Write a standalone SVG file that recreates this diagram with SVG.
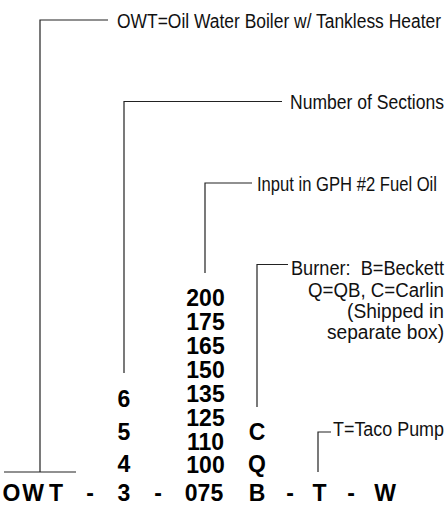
<svg xmlns="http://www.w3.org/2000/svg" width="446" height="506" viewBox="0 0 446 506">
<style>
.lbl{font-family:"Liberation Sans",Arial,sans-serif;font-size:16px;fill:#111}
.b{font-family:"Liberation Sans",Arial,sans-serif;font-size:23px;font-weight:bold;fill:#000;text-anchor:middle}
.c{fill:none;stroke:#222;stroke-width:1.2}
</style>
<rect width="446" height="506" fill="#fff"/>
<g id="connectors">
<path class="c" d="M108,20H40V472M4,472H76"/>
<path class="c" d="M282,101.5H124V373"/>
<path class="c" d="M252,183H205V273"/>
<path class="c" d="M288,264.5H257V407"/>
<path class="c" d="M331,432H318V472"/>
</g>
<g id="label-owt"><text class="lbl" transform="translate(117,27.5) scale(1,1.22)" textLength="324" lengthAdjust="spacingAndGlyphs">OWT=Oil Water Boiler w/ Tankless Heater</text></g>
<g id="label-sections"><text class="lbl" transform="translate(290,109) scale(1,1.22)" textLength="154" lengthAdjust="spacingAndGlyphs">Number of Sections</text></g>
<g id="label-input"><text class="lbl" transform="translate(257,190.5) scale(1,1.22)" textLength="180" lengthAdjust="spacingAndGlyphs">Input in GPH #2 Fuel Oil</text></g>
<g id="label-burner">
<text class="lbl" transform="translate(291,275) scale(1,1.22)" textLength="153" lengthAdjust="spacingAndGlyphs" xml:space="preserve">Burner:  B=Beckett</text>
<text class="lbl" transform="translate(308,296.5) scale(1,1.22)" textLength="136" lengthAdjust="spacingAndGlyphs">Q=QB, C=Carlin</text>
<text class="lbl" transform="translate(347,317.5) scale(1,1.22)" textLength="97" lengthAdjust="spacingAndGlyphs">(Shipped in</text>
<text class="lbl" transform="translate(327,338.5) scale(1,1.22)" textLength="117" lengthAdjust="spacingAndGlyphs">separate box)</text>
</g>
<g id="label-pump"><text class="lbl" transform="translate(333,436) scale(1,1.22)" textLength="111" lengthAdjust="spacingAndGlyphs">T=Taco Pump</text></g>
<g id="sections-options">
<text class="b" x="124" y="407">6</text>
<text class="b" x="124" y="440">5</text>
<text class="b" x="124" y="472">4</text>
</g>
<g id="input-options">
<text class="b" x="205.5" y="306">200</text>
<text class="b" x="205.5" y="330">175</text>
<text class="b" x="205.5" y="354">165</text>
<text class="b" x="205.5" y="378">150</text>
<text class="b" x="205.5" y="401.5">135</text>
<text class="b" x="205.5" y="425.5">125</text>
<text class="b" x="205.5" y="449.5">110</text>
<text class="b" x="205.5" y="473">100</text>
</g>
<g id="burner-options">
<text class="b" x="257" y="440">C</text>
<text class="b" x="257" y="472">Q</text>
</g>
<g id="code-row">
<text class="b" x="11.5" y="500.5">O</text>
<text class="b" x="33" y="500.5">W</text>
<text class="b" x="56" y="500.5">T</text>
<text class="b" x="90" y="500.5">-</text>
<text class="b" x="124" y="500.5">3</text>
<text class="b" x="158" y="500.5">-</text>
<text class="b" x="204" y="500.5">075</text>
<text class="b" x="257" y="500.5">B</text>
<text class="b" x="290" y="500.5">-</text>
<text class="b" x="319.5" y="500.5">T</text>
<text class="b" x="351" y="500.5">-</text>
<text class="b" x="385" y="500.5">W</text>
</g>
</svg>
